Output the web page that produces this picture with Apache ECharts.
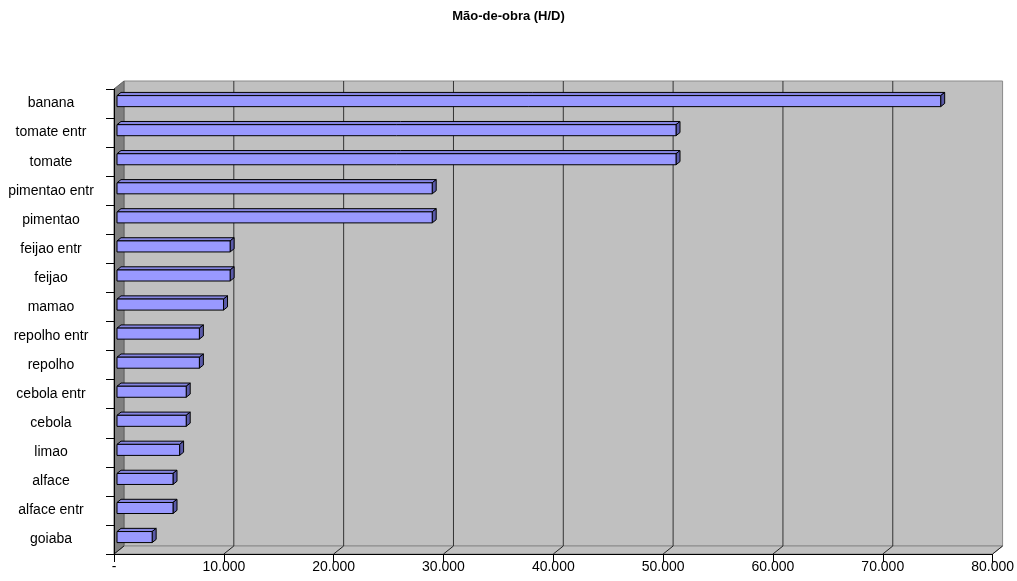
<!DOCTYPE html>
<html>
<head>
<meta charset="utf-8">
<script src="https://cdn.jsdelivr.net/npm/echarts@6/dist/echarts.min.js"></script>
<style>
html,body{margin:0;padding:0;background:#fff;}
#c{width:1017px;height:581px;}
</style>
</head>
<body>
<div id="c"></div>
<script>
var titleText = 'Mão-de-obra (H/D)';
var categories = ['banana','tomate entr','tomate','pimentao entr','pimentao','feijao entr','feijao','mamao','repolho entr','repolho','cebola entr','cebola','limao','alface','alface entr','goiaba'];
var values = [75000, 50900, 50900, 28700, 28700, 10300, 10300, 9700, 7500, 7500, 6300, 6300, 5700, 5100, 5100, 3200];
var xTicks = [0, 10000, 20000, 30000, 40000, 50000, 60000, 70000, 80000];

var DX = 10, DY = -8;
var FONT = 'Liberation Sans, Arial, sans-serif';

function fmt(v){
  if (v === 0) return '-';
  return String(v).replace(/\B(?=(\d{3})+(?!\d))/g, '.');
}

var chart = echarts.init(document.getElementById('c'), null, {renderer:'canvas'});

function renderFrame(params, api){
  var cs = params.coordSys;
  var L = cs.x, T = cs.y, R = cs.x + cs.width, B = cs.y + cs.height;
  var ch = [];
  ch.push({type:'rect', shape:{x:L+DX, y:T+DY, width:R-L, height:B-T},
    style:{fill:'#c0c0c0', stroke:'#8a8a8a', lineWidth:1}});
  ch.push({type:'polygon', shape:{points:[[L,B],[L+DX,B+DY],[R+DX,B+DY],[R,B]]},
    style:{fill:'#c0c0c0', stroke:'#8a8a8a', lineWidth:1}});
  ch.push({type:'polygon', shape:{points:[[L,T],[L+DX,T+DY],[L+DX,B+DY],[L,B]]},
    style:{fill:'#808080', stroke:'#606060', lineWidth:1}});
  for (var i = 0; i < xTicks.length; i++){
    var x = api.coord([xTicks[i], 0])[0];
    if (i > 0 && i < xTicks.length - 1){
      ch.push({type:'line', shape:{x1:x+DX, y1:T+DY, x2:x+DX, y2:B+DY},
        style:{stroke:'#333333', lineWidth:1}});
    }
    ch.push({type:'line', shape:{x1:x, y1:B, x2:x+DX, y2:B+DY},
      style:{stroke:'#222222', lineWidth:1}});
  }
  return {type:'group', children:ch};
}

function renderBar(params, api){
  var v = api.value(0), idx = api.value(1);
  var s = api.coord([0, idx]);
  var e = api.coord([v, idx]);
  var band = api.size([0, 1])[1];
  var h = band * 0.38;
  var fx = DX * 0.3, fy = DY * 0.3;
  var ddx = DX * 0.4, ddy = DY * 0.4;
  var x0 = s[0] + fx, x1 = e[0] + fx;
  var y0 = s[1] + fy - h / 2, y1 = y0 + h;
  return {type:'group', children:[
    {type:'polygon', shape:{points:[[x0,y0],[x1,y0],[x1+ddx,y0+ddy],[x0+ddx,y0+ddy]]},
      style:{fill:'#8585e0', stroke:'#000', lineWidth:1}},
    {type:'polygon', shape:{points:[[x1,y0],[x1+ddx,y0+ddy],[x1+ddx,y1+ddy],[x1,y1]]},
      style:{fill:'#5a5aa8', stroke:'#000', lineWidth:1}},
    {type:'rect', shape:{x:x0, y:y0, width:x1-x0, height:h},
      style:{fill:'#9999ff', stroke:'#000', lineWidth:1}}
  ]};
}

var option = {
  animation:false,
  backgroundColor:'#ffffff',
  title:{text:titleText, left:'center', top:5,
    textStyle:{fontFamily:FONT, fontSize:13, fontWeight:'bold', color:'#000'}},
  grid:{left:114, right:24, top:89, bottom:27, containLabel:false},
  xAxis:{type:'value', min:0, max:80000, interval:10000, z:10,
    axisLine:{show:true, lineStyle:{color:'#000', width:1}},
    axisTick:{show:true, length:8, lineStyle:{color:'#000'}},
    splitLine:{show:false},
    axisLabel:{formatter:fmt, color:'#000', fontFamily:FONT, fontSize:14, margin:6}},
  yAxis:{type:'category', data:categories, inverse:true, z:10,
    axisLine:{show:true, lineStyle:{color:'#000', width:1}},
    axisTick:{show:true, length:8, lineStyle:{color:'#000'}},
    splitLine:{show:false},
    axisLabel:{color:'#000', fontFamily:FONT, fontSize:14, margin:63, align:'center'}},
  series:[
    {type:'custom', name:'frame', renderItem:renderFrame, clip:false, silent:true, z:1,
      data:[[0,0]], encode:{x:0, y:1}},
    {type:'custom', name:titleText, renderItem:renderBar, clip:false, z:3,
      data:values.map(function(v,i){return [v,i];}), encode:{x:0, y:1}}
  ]
};
chart.setOption(option);
</script>
</body>
</html>
